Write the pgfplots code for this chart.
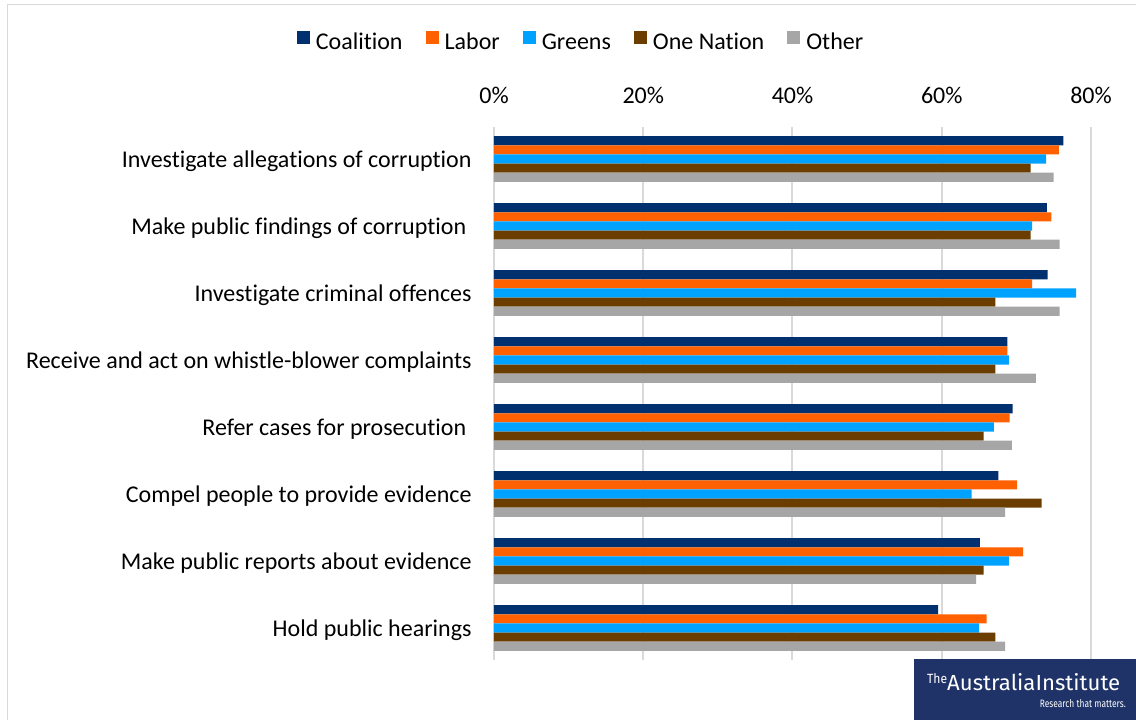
\documentclass[border=0pt]{standalone}
\usepackage{fontspec}
\setmainfont{Carlito}[Ligatures=NoCommon]
\newfontfamily\logofont{Fira Sans}
\usepackage{graphicx}
\usepackage{pgfplots}
\usepackage{pgfplotstable}
\pgfplotsset{compat=1.18}
\definecolor{coal}{RGB}{0,48,110}
\definecolor{labor}{RGB}{255,96,0}
\definecolor{greens}{RGB}{0,162,255}
\definecolor{onenation}{RGB}{107,62,0}
\definecolor{other}{RGB}{166,166,166}
\definecolor{gridgrey}{RGB}{217,217,217}
\definecolor{logoblue}{RGB}{31,51,104}

\pgfplotstableread{
x y
76.3 0
74.1 1
74.2 2
68.8 3
69.5 4
67.6 5
65.1 6
59.5 7
}\coalition
\pgfplotstableread{
x y
75.7 0
74.7 1
72.1 2
68.8 3
69.1 4
70.1 5
70.9 6
66.0 7
}\labor
\pgfplotstableread{
x y
74.0 0
72.1 1
78.0 2
69.0 3
67.0 4
64.0 5
69.0 6
65.0 7
}\greens
\pgfplotstableread{
x y
71.9 0
71.9 1
67.2 2
67.2 3
65.6 4
73.4 5
65.6 6
67.2 7
}\onenation
\pgfplotstableread{
x y
75.0 0
75.8 1
75.8 2
72.6 3
69.4 4
68.5 5
64.6 6
68.5 7
}\other

\begin{document}
\begin{tikzpicture}
\path[use as bounding box] (0pt,0pt) rectangle (1136pt,720pt);
\fill[white] (0pt,0pt) rectangle (1136pt,720pt);
\draw[gridgrey, line width=1.5pt] (7.5pt,0pt) -- (7.5pt,715.5pt) -- (1136pt,715.5pt);
\begin{axis}[
  at={(494pt,60pt)}, anchor=south west,
  scale only axis, width=597pt, height=533pt,
  xmin=0, xmax=80, ymin=-0.478, ymax=7.478, y dir=reverse,
  xbar, bar width=0.136,
  axis line style={draw=none},
  tick style={draw=none},
  xmajorgrids, major grid style={draw=gridgrey, line width=2pt},
  xticklabel pos=upper,
  xtick={0,20,40,60,80},
  xticklabels={0\%,20\%,40\%,60\%,80\%},
  xticklabel style={anchor=base, yshift=23pt, font=\fontsize{24}{29}\selectfont},
  ytick={0,1,2,3,4,5,6,7},
  yticklabels={Investigate allegations of corruption,
    Make public findings of corruption\rule{5.3pt}{0pt},
    Investigate criminal offences,
    Receive and act on whistle-blower complaints,
    Refer cases for prosecution\rule{5.3pt}{0pt},
    Compel people to provide evidence,
    Make public reports about evidence,
    Hold public hearings},
  yticklabel style={anchor=base east, inner sep=0pt, xshift=-18pt, yshift=-8.7pt, font=\fontsize{24}{29}\selectfont},
  legend columns=5,
  legend style={at={(0.1441,1.161)}, anchor=center, draw=none, fill=none,
    font=\fontsize{24}{29}\selectfont, inner sep=0pt,
    nodes={inner sep=0pt},
    /tikz/every odd column/.append style={column sep=6pt},
    /tikz/every even column/.append style={column sep=23pt}},
]
\addplot[fill=coal, draw=none, bar shift=-0.272,
  legend image code/.code={\fill[coal] (0pt,-1.5pt) rectangle (13pt,11.5pt);}]
  table[x=x,y=y]{\coalition};
\addplot[fill=labor, draw=none, bar shift=-0.136,
  legend image code/.code={\fill[labor] (0pt,-1.5pt) rectangle (13pt,11.5pt);}]
  table[x=x,y=y]{\labor};
\addplot[fill=greens, draw=none, bar shift=0,
  legend image code/.code={\fill[greens] (0pt,-1.5pt) rectangle (13pt,11.5pt);}]
  table[x=x,y=y]{\greens};
\addplot[fill=onenation, draw=none, bar shift=0.136,
  legend image code/.code={\fill[onenation] (0pt,-1.5pt) rectangle (13pt,11.5pt);}]
  table[x=x,y=y]{\onenation};
\addplot[fill=other, draw=none, bar shift=0.272,
  legend image code/.code={\fill[other] (0pt,-1.5pt) rectangle (13pt,11.5pt);}]
  table[x=x,y=y]{\other};
\legend{Coalition,Labor,Greens,One Nation,Other}
\end{axis}
% logo
\fill[logoblue] (914pt,0pt) rectangle (1136pt,61pt);
\node[anchor=south west, inner sep=0pt, text=white] at (927pt,36pt)
  {\resizebox{20pt}{10pt}{\logofont The}};
\node[anchor=south west, inner sep=0pt, text=white] at (947pt,29pt)
  {\resizebox{173pt}{17pt}{\logofont AustraliaInstitute}};
\node[anchor=south east, inner sep=0pt, text=white] at (1126pt,12pt)
  {\resizebox{86pt}{8pt}{\logofont Research that matters.}};
\end{tikzpicture}
\end{document}
